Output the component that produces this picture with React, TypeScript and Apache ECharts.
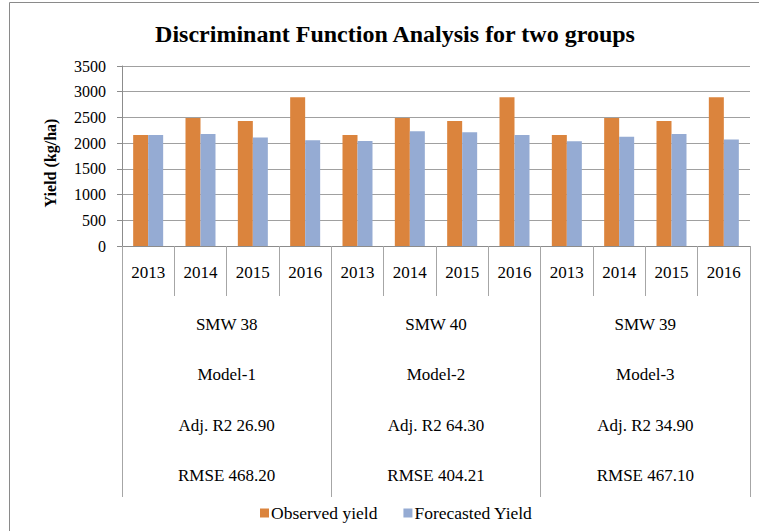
import React, { useEffect, useRef } from "react";
import * as echarts from "echarts";

const years = ["2013", "2014", "2015", "2016", "2013", "2014", "2015", "2016", "2013", "2014", "2015", "2016"];
const observedYield = [2160, 2490, 2430, 2890, 2160, 2490, 2430, 2890, 2160, 2490, 2430, 2890];
const forecastedYield = [2160, 2180, 2110, 2055, 2040, 2230, 2210, 2160, 2035, 2125, 2180, 2070];
const smwLabels = ["SMW 38", "SMW 40", "SMW 39"];
const modelLabels = ["Model-1", "Model-2", "Model-3"];
const adjR2Labels = ["Adj. R2 26.90", "Adj. R2 64.30", "Adj. R2 34.90"];
const rmseLabels = ["RMSE 468.20", "RMSE 404.21", "RMSE 467.10"];
const yTicks = [0, 500, 1000, 1500, 2000, 2500, 3000, 3500];

const FONT = "'Liberation Serif', 'Times New Roman', serif";

export default function App() {
  const ref = useRef<HTMLDivElement>(null);
  useEffect(() => {
    if (!ref.current) return;
    const chart = echarts.init(ref.current, undefined, { renderer: "svg" });
    const groups = smwLabels.map((s, i) => [s, modelLabels[i], adjR2Labels[i], rmseLabels[i]].join("\n"));
    chart.setOption({
      animation: false,
      backgroundColor: "#ffffff",
      title: {
        text: "Discriminant Function Analysis for two groups",
        left: 390,
        textAlign: "center",
        top: 17,
        textStyle: { fontFamily: FONT, fontWeight: "bold", fontSize: 24, color: "#000" },
      },
      legend: {
        bottom: 4,
        left: 255,
        itemWidth: 9,
        itemHeight: 9,
        itemGap: 26,
        icon: "rect",
        textStyle: { fontFamily: FONT, fontSize: 17.5, color: "#000", padding: [0, 0, 0, -3] },
        data: ["Observed yield", "Forecasted Yield"],
      },
      grid: { left: 122, right: 9, top: 66, bottom: 285, containLabel: false },
      xAxis: [
        {
          type: "category",
          data: years,
          position: "bottom",
          axisLine: { show: true, lineStyle: { color: "#8c8c8c", width: 1 } },
          axisTick: { show: true, length: 50, interval: 0, lineStyle: { color: "#a6a6a6" } },
          axisLabel: { interval: 0, margin: 18, fontFamily: FONT, fontSize: 17, color: "#000" },
          splitLine: { show: false },
        },
        {
          type: "category",
          data: groups,
          position: "bottom",
          offset: 0,
          axisLine: { show: false },
          axisTick: { show: true, length: 251, interval: 0, lineStyle: { color: "#a6a6a6" } },
          axisLabel: {
            interval: 0,
            margin: 53,
            fontFamily: FONT,
            fontSize: 17,
            color: "#000",
            lineHeight: 50.5,
          },
          splitLine: { show: false },
        },
      ],
      yAxis: {
        type: "value",
        min: yTicks[0],
        max: yTicks[yTicks.length - 1],
        interval: 500,
        name: "Yield (kg/ha)",
        nameLocation: "middle",
        nameGap: 64,
        nameTextStyle: { fontFamily: FONT, fontWeight: "bold", fontSize: 16, color: "#000", padding: [0, 14, 0, 0] },
        axisLine: { show: true, lineStyle: { color: "#8c8c8c", width: 1 } },
        axisTick: { show: true, length: 5, lineStyle: { color: "#8c8c8c" } },
        axisLabel: { margin: 16, fontFamily: FONT, fontSize: 16, color: "#000", formatter: (v: number) => String(v) },
        splitLine: { show: true, lineStyle: { color: "#a0a0a0", width: 1 } },
      },
      series: [
        {
          name: "Observed yield",
          type: "bar",
          xAxisIndex: 0,
          data: observedYield,
          barWidth: 15,
          barGap: "0%",
          itemStyle: { color: "#DB843D" },
        },
        {
          name: "Forecasted Yield",
          type: "bar",
          xAxisIndex: 0,
          data: forecastedYield,
          barWidth: 15,
          barGap: "0%",
          itemStyle: { color: "#95ABD3" },
        },
      ],
      graphic: [
        {
          type: "rect",
          silent: true,
          z: 100,
          shape: { x: 9.5, y: 2.5, width: 800, height: 600 },
          style: { fill: "none", stroke: "#8a8a8a", lineWidth: 1 },
        },
      ],
    });
    return () => chart.dispose();
  }, []);
  return (
    <div
      ref={ref}
      style={{ position: "fixed", left: 0, top: 0, width: 759, height: 531 }}
    />
  );
}
